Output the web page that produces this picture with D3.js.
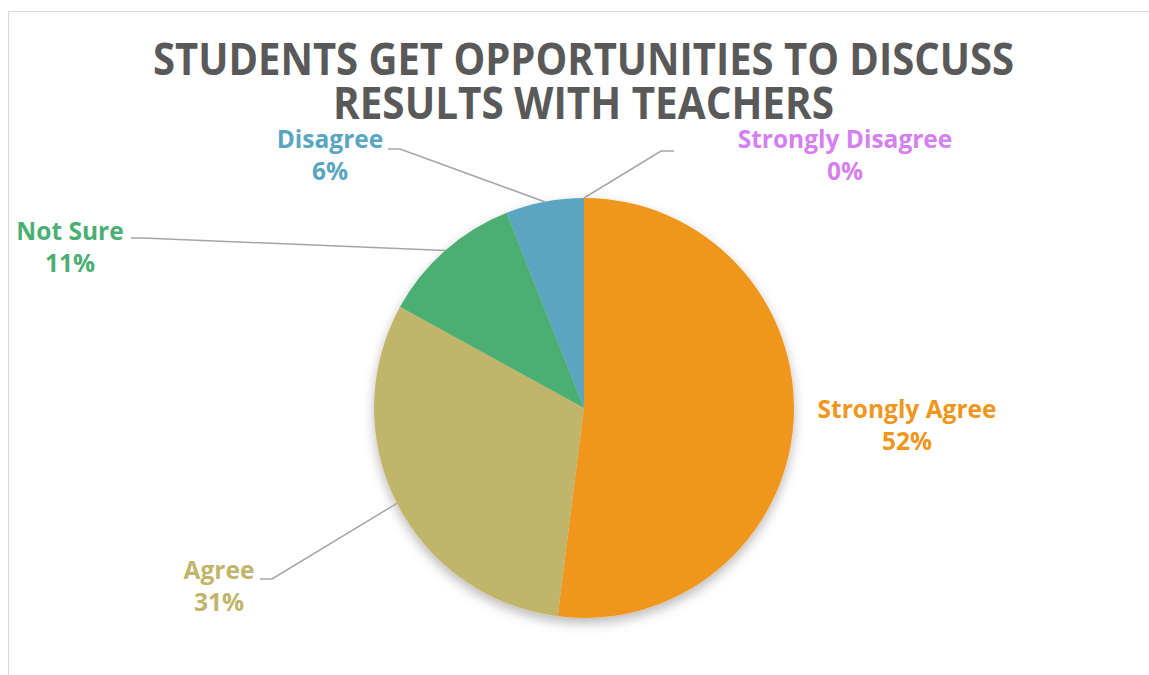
<!DOCTYPE html>
<html>
<head>
<meta charset="utf-8">
<script src="https://cdn.jsdelivr.net/npm/d3@7"></script>
<style>
  html, body { margin: 0; padding: 0; background: #fff; }
  svg { display: block; }
</style>
</head>
<body>
<div id="chart"></div>
<script>
// ---- data ----
const categories = ["Strongly Agree", "Agree", "Not Sure", "Disagree", "Strongly Disagree"];
const values = [52, 31, 11, 6, 0];
const colors = ["#F0961A", "#C1B56B", "#4BAF73", "#5AA6C2", "#D580F0"];
const titleLines = ["STUDENTS GET OPPORTUNITIES TO DISCUSS", "RESULTS WITH TEACHERS"];

// ---- layout (label placement, not data) ----
const W = 1149, H = 675;
const cx = 584, cy = 408, R = 210;
// label text centre x, first-line baseline y, leader elbow point, leader end on label side
const labelLayout = [
  { x: 907, y: 418, line: null },
  { x: 219, y: 579, line: { elbow: [272, 579], end: [260, 579] } },
  { x: 70,  y: 240, line: { elbow: [143, 238], end: [131, 238] } },
  { x: 330, y: 148, line: { elbow: [400, 149], end: [388, 149] } },
  { x: 845, y: 148, line: { elbow: [661, 151], end: [674, 151] } }
];

const svg = d3.select("#chart").append("svg")
  .attr("width", W).attr("height", H);

const defs = svg.append("defs");
const f = defs.append("filter").attr("id", "shadow")
  .attr("x", "-20%").attr("y", "-20%").attr("width", "140%").attr("height", "140%");
f.append("feDropShadow").attr("dx", 0).attr("dy", 5).attr("stdDeviation", 6)
  .attr("flood-color", "#000").attr("flood-opacity", 0.28);

// chart border
svg.append("path")
  .attr("d", `M8.5,${H} L8.5,11.5 L${W},11.5`)
  .attr("fill", "none").attr("stroke", "#D9D9D9").attr("stroke-width", 1);

// title
const title = svg.append("g");
const titleY = [75, 119];
const titleW = [861, 501];
titleLines.forEach((t, i) => {
  title.append("text")
    .attr("x", 583.5).attr("y", titleY[i])
    .attr("text-anchor", "middle")
    .attr("font-family", "'Open Sans', sans-serif")
    .attr("font-weight", 700)
    .attr("font-size", 44)
    .attr("fill", "#595959")
    .attr("textLength", titleW[i])
    .attr("lengthAdjust", "spacingAndGlyphs")
    .text(t);
});

// pie
const data = categories.map((c, i) => ({ cat: c, value: values[i], color: colors[i], i }));
const pie = d3.pie().sort(null).value(d => d.value).startAngle(0).endAngle(2 * Math.PI);
const arcs = pie(data);
const arc = d3.arc().innerRadius(0).outerRadius(R);

const g = svg.append("g").attr("transform", `translate(${cx},${cy})`);
g.append("g").attr("filter", "url(#shadow)")
  .selectAll("path").data(arcs).join("path")
  .attr("d", arc)
  .attr("fill", d => d.data.color);

// leader lines
const edgePoint = d => {
  const a = (d.startAngle + d.endAngle) / 2;
  return [cx + R * Math.sin(a), cy - R * Math.cos(a)];
};
svg.append("g").selectAll("polyline")
  .data(arcs.filter(d => labelLayout[d.index].line))
  .join("polyline")
  .attr("points", d => {
    const p = edgePoint(d);
    const L = labelLayout[d.index].line;
    return [p, L.elbow, L.end].map(q => q.join(",")).join(" ");
  })
  .attr("fill", "none")
  .attr("stroke", "#A6A6A6")
  .attr("stroke-width", 1.5);

// labels
const labels = svg.append("g").selectAll("text")
  .data(arcs).join("text")
  .attr("text-anchor", "middle")
  .attr("font-family", "'Open Sans', sans-serif")
  .attr("font-weight", 700)
  .attr("font-size", 24.5)
  .attr("fill", d => d.data.color);
labels.append("tspan")
  .attr("x", d => labelLayout[d.index].x)
  .attr("y", d => labelLayout[d.index].y)
  .text(d => d.data.cat);
labels.append("tspan")
  .attr("x", d => labelLayout[d.index].x)
  .attr("y", d => labelLayout[d.index].y + 32)
  .text(d => Math.round(d.data.value) + "%");
</script>
</body>
</html>
